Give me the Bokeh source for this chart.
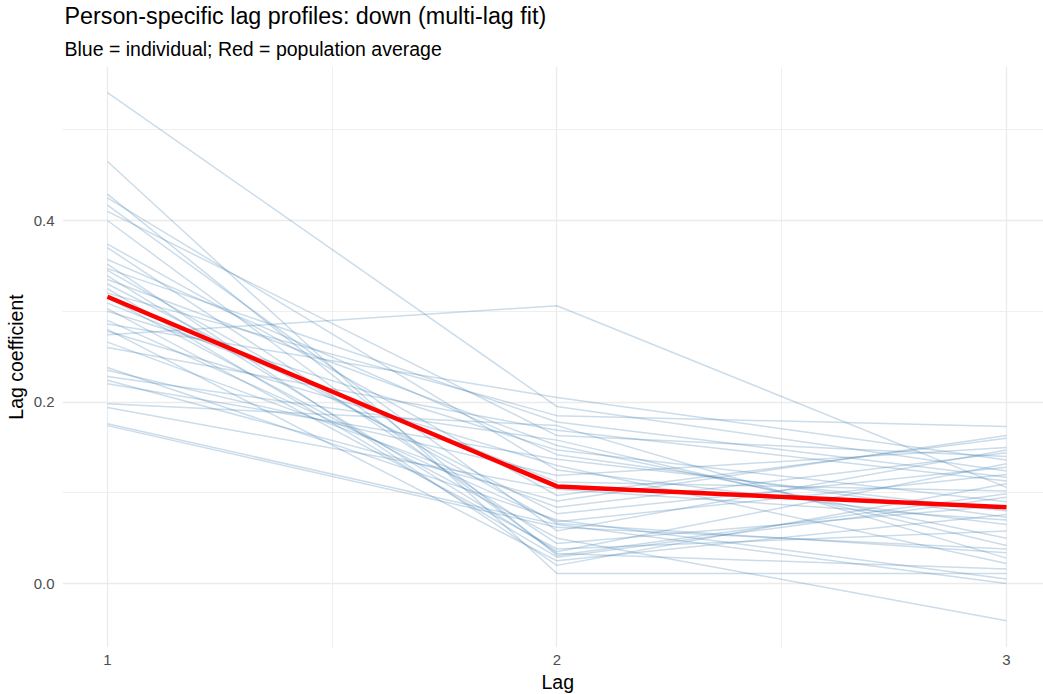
from bokeh.plotting import figure
from bokeh.models import Range1d, FixedTicker, Title
from bokeh.embed import file_html
from bokeh.resources import INLINE

# ---- data ----
lags = [1, 2, 3]
lag1_vals = [0.541, 0.465, 0.429, 0.425, 0.417, 0.410, 0.400, 0.374, 0.370, 0.357,
             0.352, 0.347, 0.345, 0.339, 0.335, 0.330, 0.325, 0.320, 0.315, 0.309,
             0.303, 0.300, 0.290, 0.286, 0.280, 0.278, 0.274, 0.266, 0.260, 0.238,
             0.235, 0.228, 0.224, 0.220, 0.198, 0.194, 0.176, 0.174]
lag2_vals = [0.195, 0.011, 0.031, 0.125, 0.058, 0.163, 0.033, 0.097, 0.044, 0.142,
             0.020, 0.178, 0.066, 0.035, 0.152, 0.077, 0.029, 0.185, 0.050, 0.112,
             0.038, 0.147, 0.068, 0.205, 0.025, 0.130, 0.306, 0.084, 0.169, 0.070,
             0.119, 0.158, 0.091, 0.137, 0.174, 0.104, 0.065, 0.062]
lag3_vals = [0.124, 0.011, 0.099, 0.065, 0.147, 0.140, 0.016, 0.160, 0.086, 0.073,
             0.110, 0.117, 0.034, 0.132, 0.050, 0.128, 0.095, 0.173, -0.041, 0.102,
             0.058, 0.090, 0.120, 0.136, 0.076, 0.022, 0.106, 0.144, 0.113, 0.005,
             0.150, 0.042, 0.163, 0.080, 0.028, 0.070, 0.000, 0.038]
pop_avg = [0.316, 0.107, 0.084]

x_ticks = [1, 2, 3]
x_minor = [1.5, 2.5]
y_ticks = [0.0, 0.2, 0.4]
y_minor = [0.1, 0.3, 0.5]
y_tick_labels = {0.0: "0.0", 0.2: "0.2", 0.4: "0.4"}

FONT = "Liberation Sans"

p = figure(width=1043, height=694, output_backend="svg", toolbar_location=None,
           x_range=Range1d(0.9, 3.0823), y_range=Range1d(-0.0705, 0.5697),
           min_border_left=62, min_border_right=0, min_border_top=66,
           min_border_bottom=47)
p.outline_line_color = None
p.background_fill_color = "white"
p.border_fill_color = "white"

xs = [lags for _ in lag1_vals]
ys = [[a, b, c] for a, b, c in zip(lag1_vals, lag2_vals, lag3_vals)]
p.multi_line(xs=xs, ys=ys, line_color="steelblue", line_alpha=0.28, line_width=1.5)
p.line(lags, pop_avg, line_color="red", line_width=4.5)

# axes
p.xaxis.ticker = FixedTicker(ticks=x_ticks, minor_ticks=x_minor)
p.yaxis.ticker = FixedTicker(ticks=y_ticks, minor_ticks=y_minor)
p.yaxis.major_label_overrides = y_tick_labels
for ax in (p.xaxis[0], p.yaxis[0]):
    ax.axis_line_color = None
    ax.major_tick_line_color = None
    ax.minor_tick_line_color = None
    ax.major_tick_in = 0
    ax.major_tick_out = 0
    ax.minor_tick_in = 0
    ax.minor_tick_out = 0
    ax.major_label_text_font = FONT
    ax.major_label_text_font_size = "15px"
    ax.major_label_text_color = "#4D4D4D"
    ax.axis_label_text_font = FONT
    ax.axis_label_text_font_size = "19.5px"
    ax.axis_label_text_font_style = "normal"
    ax.axis_label_text_color = "black"
p.yaxis.axis_label = "Lag coefficient"
p.xaxis.major_label_standoff = 7
p.yaxis.major_label_standoff = 8
p.yaxis.axis_label_standoff = 4

# x-axis title, centred on lag 2 as in the reference (ggplot centres it on the
# full panel, which runs past the right edge of the crop)
p.add_layout(Title(text="Lag", text_font=FONT, text_font_size="19.5px",
                   text_font_style="normal", text_color="black",
                   align="left", offset=479, standoff=2), "below")

for g in (p.xgrid[0], p.ygrid[0]):
    g.grid_line_color = "#EBEBEB"
    g.grid_line_width = 1.3
    g.minor_grid_line_color = "#EBEBEB"
    g.minor_grid_line_width = 0.8

# titles
p.add_layout(Title(text="Blue = individual; Red = population average",
                   text_font=FONT, text_font_size="19.5px",
                   text_font_style="normal", text_color="black",
                   align="left", offset=2, standoff=14), "above")
p.add_layout(Title(text="Person-specific lag profiles: down (multi-lag fit)",
                   text_font=FONT, text_font_size="23.3px",
                   text_font_style="normal", text_color="black",
                   align="left", offset=2, standoff=0), "above")

open("out.html", "w").write(file_html(p, INLINE))
